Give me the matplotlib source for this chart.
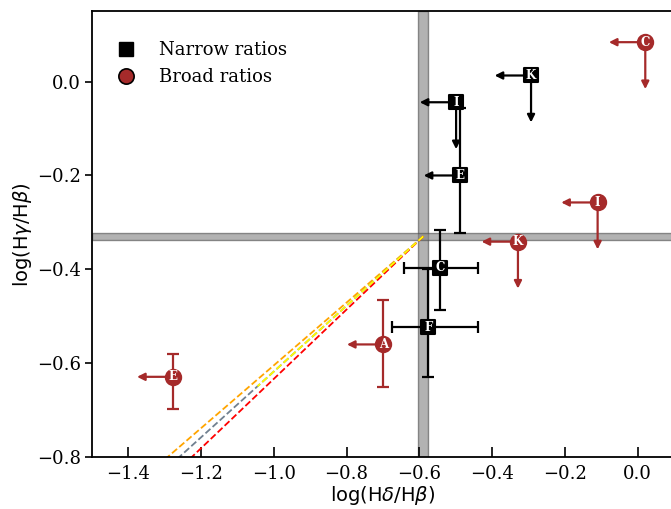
import matplotlib
matplotlib.use("Agg")
import matplotlib.pyplot as plt
from matplotlib.lines import Line2D
from matplotlib.markers import MarkerStyle
import numpy as np

# ---------------- data ----------------
narrow_labels = ['K', 'I', 'E', 'C', 'F']
narrow_x = [-0.293, -0.499, -0.488, -0.543, -0.575]
narrow_y = [0.013, -0.044, -0.200, -0.397, -0.523]
narrow_xlim = [True, True, True, False, False]   # upper limits in x (arrow left)
narrow_ylim = [True, True, False, False, False]  # upper limits in y (arrow down)
narrow_xerr_lo = [0.0, 0.0, 0.0, 0.100, 0.101]
narrow_xerr_hi = [0.0, 0.0, 0.0, 0.104, 0.136]
narrow_yerr_lo = [0.0, 0.0, 0.122, 0.089, 0.106]
narrow_yerr_hi = [0.0, 0.0, 0.143, 0.081, 0.124]

broad_labels = ['C', 'I', 'K', 'A', 'E']
broad_x = [0.021, -0.110, -0.329, -0.699, -1.276]
broad_y = [0.084, -0.2575, -0.341, -0.560, -0.629]
broad_xlim = [True, True, True, True, True]
broad_ylim = [True, True, True, False, False]
broad_xerr_lo = [0.0, 0.0, 0.0, 0.0, 0.0]
broad_xerr_hi = [0.0, 0.0, 0.0, 0.0, 0.0]
broad_yerr_lo = [0.0, 0.0, 0.0, 0.091, 0.069]
broad_yerr_hi = [0.0, 0.0, 0.0, 0.094, 0.048]

limit_len = 0.1

# intrinsic (case B) ratios and bands
intr_x, intr_x_halfwidth = -0.589, 0.0138
intr_y, intr_y_halfwidth = -0.3296, 0.008

# reddening lines from intrinsic point
line_colors = ['orange', 'slategray', 'red', 'yellow']
line_slopes = [0.669, 0.701, 0.739, 0.701]
line_xend = [-1.45, -1.45, -1.45, -1.045]

xlim = (-1.5, 0.1)
ylim = (-0.8, 0.15)
xticks = [-1.4, -1.2, -1.0, -0.8, -0.6, -0.4, -0.2, 0.0]
yticks = [0.0, -0.2, -0.4, -0.6, -0.8]

broad_color = '#a52a2a'
narrow_color = 'black'

# ---------------- figure ----------------
fig = plt.figure(figsize=(6.71, 5.09), dpi=100)
ax = fig.add_axes([0.137, 0.102, 0.8675, 0.876])

ax.axvspan(intr_x - intr_x_halfwidth, intr_x + intr_x_halfwidth,
           facecolor=(0.5, 0.5, 0.5, 0.6), edgecolor=(0.3, 0.3, 0.3, 0.6), lw=1, zorder=1)
ax.axhspan(intr_y - intr_y_halfwidth, intr_y + intr_y_halfwidth,
           facecolor=(0.5, 0.5, 0.5, 0.6), edgecolor=(0.3, 0.3, 0.3, 0.6), lw=1, zorder=1)

for c, s, xe in zip(line_colors, line_slopes, line_xend):
    xs = np.array([intr_x, xe])
    ys = intr_y + s * (xs - intr_x)
    ax.plot(xs, ys, ls='--', color=c, lw=1.3, zorder=2)


def draw_set(xs, ys, labels, xl, yl, xlo, xhi, ylo, yhi, color, marker, ms):
    for i in range(len(xs)):
        x, y = xs[i], ys[i]
        if xl[i]:
            ax.annotate('', xy=(x - limit_len, y), xytext=(x, y),
                        arrowprops=dict(arrowstyle='-|>', color=color, lw=1.6,
                                        mutation_scale=11, shrinkA=0, shrinkB=0),
                        zorder=3)
        if yl[i]:
            ax.annotate('', xy=(x, y - limit_len), xytext=(x, y),
                        arrowprops=dict(arrowstyle='-|>', color=color, lw=1.6,
                                        mutation_scale=11, shrinkA=0, shrinkB=0),
                        zorder=3)
        xerr = None
        yerr = None
        if xlo[i] > 0 or xhi[i] > 0:
            xerr = [[xlo[i]], [xhi[i]]]
        if ylo[i] > 0 or yhi[i] > 0:
            yerr = [[ylo[i]], [yhi[i]]]
        if xerr is not None or yerr is not None:
            ax.errorbar([x], [y], xerr=xerr, yerr=yerr, fmt='none', ecolor=color,
                        elinewidth=1.6, capsize=4, capthick=1.6, zorder=3)
    ax.plot(xs, ys, ls='none', marker=marker, color=color, ms=ms,
            mec=color, mew=1.5, zorder=4)
    for x, y, lab in zip(xs, ys, labels):
        ax.text(x, y, lab, ha='center', va='center', color='white',
                fontsize=8.5, fontweight='bold', family='DejaVu Serif', zorder=5)


draw_set(narrow_x, narrow_y, narrow_labels, narrow_xlim, narrow_ylim,
         narrow_xerr_lo, narrow_xerr_hi, narrow_yerr_lo, narrow_yerr_hi,
         narrow_color, MarkerStyle('s', joinstyle='round'), 9.5)
draw_set(broad_x, broad_y, broad_labels, broad_xlim, broad_ylim,
         broad_xerr_lo, broad_xerr_hi, broad_yerr_lo, broad_yerr_hi,
         broad_color, 'o', 11)

ax.set_xlim(*xlim)
ax.set_ylim(*ylim)
ax.set_xticks(xticks)
ax.set_yticks(yticks)
ax.set_xticklabels([f"{t:.1f}".replace('-', '\u2212') for t in xticks],
                   family='DejaVu Serif', fontsize=13)
ax.set_yticklabels([f"{t:.1f}".replace('-', '\u2212') for t in yticks],
                   family='DejaVu Serif', fontsize=13)
ax.tick_params(axis='x', direction='in', length=7, width=1.2, pad=6)
ax.tick_params(axis='y', direction='out', length=5, width=1.2, pad=3)
for sp in ax.spines.values():
    sp.set_linewidth(1.3)

ax.set_xlabel(r'log(H$\delta$/H$\beta$)', fontsize=14, family='DejaVu Sans', labelpad=0.5)
ax.set_ylabel(r'log(H$\gamma$/H$\beta$)', fontsize=14, family='DejaVu Sans', labelpad=2)

handles = [
    Line2D([], [], ls='none', marker='s', color='black', ms=10),
    Line2D([], [], ls='none', marker='o', mfc=broad_color, mec='black', mew=1.2, ms=11),
]
ax.legend(handles, ['Narrow ratios', 'Broad ratios'], loc='upper left',
          bbox_to_anchor=(0.0, 0.97), frameon=False,
          prop={'family': 'DejaVu Serif', 'size': 13})

fig.savefig('out.png', dpi=100)
